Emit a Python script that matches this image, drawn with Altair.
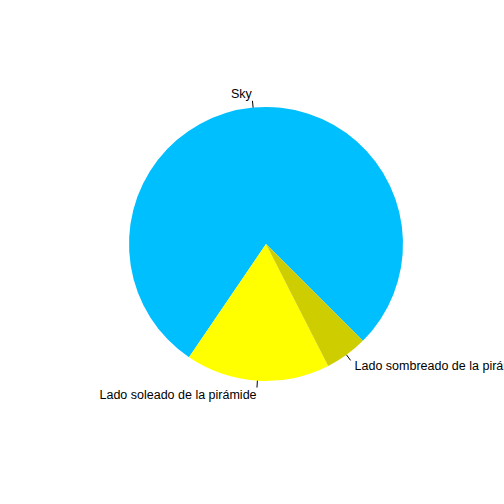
import altair as alt
import pandas as pd

categories = ["Sky", "Lado soleado de la pirámide", "Lado sombreado de la pirámide"]
values = [78, 17, 5]
colors = ["#00BFFF", "#FFFF00", "#CDCD00"]
# clockwise drawing order in Vega (R draws counterclockwise from 315 degrees)
draw_order = [3, 2, 1]

df = pd.DataFrame({"category": categories, "value": values, "order": draw_order})

CX, CY, R = 266, 244, 137
START = 2.356194  # 135 degrees in radians (R's init.angle = 315)
END = START + 6.283185

base = alt.Chart(df)

arcs = base.mark_arc(radius=R, strokeWidth=0).encode(
    theta=alt.Theta("value:Q", stack=True, scale=alt.Scale(range=[START, END])),
    order=alt.Order("order:Q"),
    color=alt.Color("category:N", scale=alt.Scale(domain=categories, range=colors), legend=None),
    x=alt.value(CX),
    y=alt.value(CY),
)

lab = base.transform_window(
    cum="sum(value)", sort=[alt.SortField("order")]
).transform_joinaggregate(
    total="sum(value)"
).transform_calculate(
    mid=f"{START} + 2*PI*(datum.cum - datum.value/2)/datum.total"
).transform_calculate(
    x1=f"{CX} + {R}*sin(datum.mid)",
    y1=f"{CY} - {R}*cos(datum.mid)",
    x2=f"{CX} + {R*1.05}*sin(datum.mid)",
    y2=f"{CY} - {R*1.05}*cos(datum.mid)",
    lx=f"{CX} + {R*1.1}*sin(datum.mid)",
    ly=f"{CY} - {R*1.1}*cos(datum.mid) + 0.5",
    side="sin(datum.mid) < 0 ? 'right' : 'left'",
)

ticks = lab.mark_rule(color="black", strokeWidth=1).encode(
    x=alt.X("x1:Q", scale=None),
    y=alt.Y("y1:Q", scale=None),
    x2="x2:Q",
    y2="y2:Q",
)

text_right = lab.transform_filter("datum.side == 'right'").mark_text(
    align="right", baseline="middle", font="Liberation Sans", fontSize=12.5, color="black"
).encode(x=alt.X("lx:Q", scale=None), y=alt.Y("ly:Q", scale=None), text="category:N")

text_left = lab.transform_filter("datum.side == 'left'").mark_text(
    align="left", baseline="middle", font="Liberation Sans", fontSize=12.5, color="black"
).encode(x=alt.X("lx:Q", scale=None), y=alt.Y("ly:Q", scale=None), text="category:N")

chart = alt.layer(arcs, ticks, text_right, text_left).properties(
    width=504, height=504, autosize=alt.AutoSizeParams(type="none"), padding=0
).configure_view(stroke=None)

chart.save("out.html", embed_options={"renderer": "svg", "actions": False})
